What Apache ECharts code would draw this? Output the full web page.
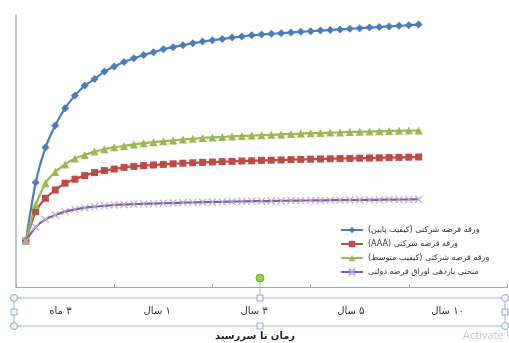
<!DOCTYPE html>
<html>
<head>
<meta charset="utf-8">
<script src="https://cdn.jsdelivr.net/npm/echarts@6/dist/echarts.min.js"></script>
<style>
  html, body { margin: 0; padding: 0; background: #ffffff; }
  #chart { width: 509px; height: 343px; }
</style>
</head>
<body>
<div id="chart"></div>
<script>
// Yield curves by time to maturity (values in percent)
const seriesNames = [
  'ورقه قرضه شرکتی (کیفیت پایین)',
  'ورقه قرضه شرکتی (AAA)',
  'ورقه قرضه شرکتی (کیفیت متوسط)',
  'منحنی بازدهی اوراق قرضه دولتی'
];

const lowGrade = [
  2.30, 5.22, 6.97, 8.07, 8.94, 9.57, 10.07, 10.40, 10.77, 11.02,
  11.25, 11.44, 11.60, 11.74, 11.89, 11.99, 12.09, 12.19, 12.27, 12.34,
  12.40, 12.47, 12.52, 12.59, 12.62, 12.66, 12.69, 12.73, 12.76, 12.79,
  12.82, 12.85, 12.88, 12.91, 12.94, 12.97, 13.00, 13.03, 13.06, 13.09,
  13.12
];

const gradeAAA = [
  2.30, 3.77, 4.44, 4.85, 5.19, 5.39, 5.57, 5.72, 5.82, 5.90,
  5.98, 6.03, 6.07, 6.10, 6.13, 6.16, 6.19, 6.21, 6.23, 6.25,
  6.27, 6.28, 6.30, 6.31, 6.33, 6.34, 6.35, 6.37, 6.38, 6.39,
  6.40, 6.41, 6.42, 6.43, 6.44, 6.45, 6.46, 6.47, 6.48, 6.49,
  6.50
];

const midGrade = [
  2.30, 4.10, 5.19, 5.75, 6.13, 6.43, 6.60, 6.77, 6.89, 6.99,
  7.05, 7.13, 7.19, 7.24, 7.29, 7.33, 7.37, 7.41, 7.45, 7.48,
  7.50, 7.53, 7.55, 7.57, 7.59, 7.61, 7.63, 7.65, 7.67, 7.69,
  7.70, 7.72, 7.73, 7.75, 7.76, 7.77, 7.79, 7.80, 7.81, 7.82,
  7.83
];

const government = [
  2.30, 3.00, 3.38, 3.60, 3.77, 3.88, 3.96, 4.02, 4.06, 4.10,
  4.12, 4.14, 4.16, 4.17, 4.19, 4.20, 4.22, 4.23, 4.24, 4.25,
  4.26, 4.27, 4.28, 4.29, 4.29, 4.30, 4.31, 4.32, 4.32, 4.33,
  4.33, 4.34, 4.34, 4.35, 4.35, 4.36, 4.36, 4.37, 4.37, 4.38,
  4.38
];

const maturityLabels = ['۳ ماه', '۱ سال', '۳ سال', '۵ سال', '۱۰ سال'];
const axisTitle = 'زمان تا سررسید';

// Wrap Persian strings in a right-to-left embedding so parentheses and digits order correctly
const rtl = s => '\u202B' + s + '\u202C';
const steps = lowGrade.map((_, i) => i + 1);
const pairs = arr => steps.map((x, i) => [x, arr[i]]);

const FONT = 'DejaVu Sans';
const frameColor = '#a3b7d0';
const handleStroke = '#8ea8c6';

function lineSeries(name, data, color, symbol, size, markerColor) {
  return {
    type: 'line',
    name: name,
    data: pairs(data),
    xAxisIndex: 0,
    yAxisIndex: 0,
    smooth: 0.2,
    symbol: symbol,
    symbolSize: size,
    showAllSymbol: true,
    lineStyle: { color: color, width: 2.2 },
    itemStyle: markerColor
      ? { color: markerColor, borderColor: markerColor, borderWidth: 1.2 }
      : { color: color, borderColor: color, borderWidth: 0 },
    emphasis: { disabled: true },
    z: 3
  };
}

const chart = echarts.init(document.getElementById('chart'), null, { renderer: 'canvas' });

chart.setOption({
  animation: false,
  backgroundColor: '#ffffff',
  legend: {
    orient: 'vertical',
    left: 340,
    top: 225,
    padding: 0,
    itemWidth: 22,
    itemHeight: 8,
    itemGap: 4,
    data: seriesNames,
    formatter: name => rtl(name),
    textStyle: { fontFamily: FONT, fontSize: 8, color: '#333', lineHeight: 10 }
  },
  grid: [
    { left: 16, right: 2, top: 15, bottom: 56 },
    { left: 12, right: 13, top: 290, height: 16 }
  ],
  xAxis: [
    {
      type: 'value',
      gridIndex: 0,
      min: 0,
      max: 50,
      interval: 10,
      axisLine: { show: true, lineStyle: { color: '#a6a6a6', width: 1 } },
      axisTick: { show: true, inside: true, length: 3, lineStyle: { color: '#a6a6a6' } },
      axisLabel: { show: false },
      splitLine: { show: false }
    },
    {
      type: 'category',
      gridIndex: 1,
      data: maturityLabels,
      boundaryGap: true,
      axisLine: { show: false },
      axisTick: { show: false },
      axisLabel: {
        margin: 0,
        fontFamily: FONT,
        fontSize: 10,
        color: '#333',
        formatter: v => rtl(v)
      }
    }
  ],
  yAxis: [
    {
      type: 'value',
      gridIndex: 0,
      min: 0,
      max: 13.6,
      axisLine: { show: true, lineStyle: { color: '#b0b0b0', width: 1.5 } },
      axisTick: { show: false },
      axisLabel: { show: false },
      splitLine: { show: false }
    },
    { type: 'value', gridIndex: 1, show: false }
  ],
  series: [
    lineSeries(seriesNames[0], lowGrade, '#4a7ebb', 'diamond', 8),
    lineSeries(seriesNames[1], gradeAAA, '#be4b48', 'rect', 7),
    lineSeries(seriesNames[2], midGrade, '#98b954', 'triangle', 8),
    lineSeries(seriesNames[3], government, '#7d60a0', 'path://M0,0 L10,10 M10,0 L0,10', 7, '#b9a8d3')
  ],
  graphic: [
    // text box outline with its selection handles
    { type: 'line', shape: { x1: 14, y1: 298, x2: 505, y2: 298 }, style: { stroke: frameColor, lineWidth: 1 }, silent: true },
    { type: 'line', shape: { x1: 14, y1: 326, x2: 505, y2: 326 }, style: { stroke: frameColor, lineWidth: 1 }, silent: true },
    { type: 'line', shape: { x1: 14, y1: 298, x2: 14, y2: 326 }, style: { stroke: frameColor, lineWidth: 1 }, silent: true },
    { type: 'line', shape: { x1: 505, y1: 298, x2: 505, y2: 326 }, style: { stroke: frameColor, lineWidth: 1 }, silent: true },
    { type: 'line', shape: { x1: 260, y1: 281, x2: 260, y2: 298 }, style: { stroke: frameColor, lineWidth: 1 }, silent: true },
    { type: 'circle', shape: { cx: 14, cy: 298, r: 3.5 }, style: { fill: '#f5f8fc', stroke: handleStroke, lineWidth: 1 }, silent: true },
    { type: 'circle', shape: { cx: 505, cy: 298, r: 3.5 }, style: { fill: '#f5f8fc', stroke: handleStroke, lineWidth: 1 }, silent: true },
    { type: 'circle', shape: { cx: 14, cy: 326, r: 3.5 }, style: { fill: '#f5f8fc', stroke: handleStroke, lineWidth: 1 }, silent: true },
    { type: 'circle', shape: { cx: 505, cy: 326, r: 3.5 }, style: { fill: '#f5f8fc', stroke: handleStroke, lineWidth: 1 }, silent: true },
    { type: 'rect', shape: { x: 11, y: 309, width: 6, height: 6 }, style: { fill: '#f5f8fc', stroke: handleStroke, lineWidth: 1 }, silent: true },
    { type: 'rect', shape: { x: 502, y: 309, width: 6, height: 6 }, style: { fill: '#f5f8fc', stroke: handleStroke, lineWidth: 1 }, silent: true },
    { type: 'rect', shape: { x: 257, y: 295, width: 6, height: 6 }, style: { fill: '#f5f8fc', stroke: handleStroke, lineWidth: 1 }, silent: true },
    { type: 'rect', shape: { x: 257, y: 323, width: 6, height: 6 }, style: { fill: '#f5f8fc', stroke: handleStroke, lineWidth: 1 }, silent: true },
    { type: 'circle', shape: { cx: 260, cy: 278, r: 4 }, style: { fill: '#92d050', stroke: '#76a83c', lineWidth: 1 }, silent: true },
    // axis title beneath the text box
    {
      type: 'text', x: 255, y: 336, silent: true,
      style: {
        text: rtl(axisTitle), fill: '#222', font: 'bold 10px "DejaVu Sans"',
        align: 'center', verticalAlign: 'middle'
      }
    },
    // system watermark at the lower right
    {
      type: 'text', x: 463, y: 336, silent: true,
      style: { text: 'Activate Windows', fill: '#c4c4c4', font: '11px "Open Sans"', verticalAlign: 'middle' }
    }
  ]
});
</script>
</body>
</html>
